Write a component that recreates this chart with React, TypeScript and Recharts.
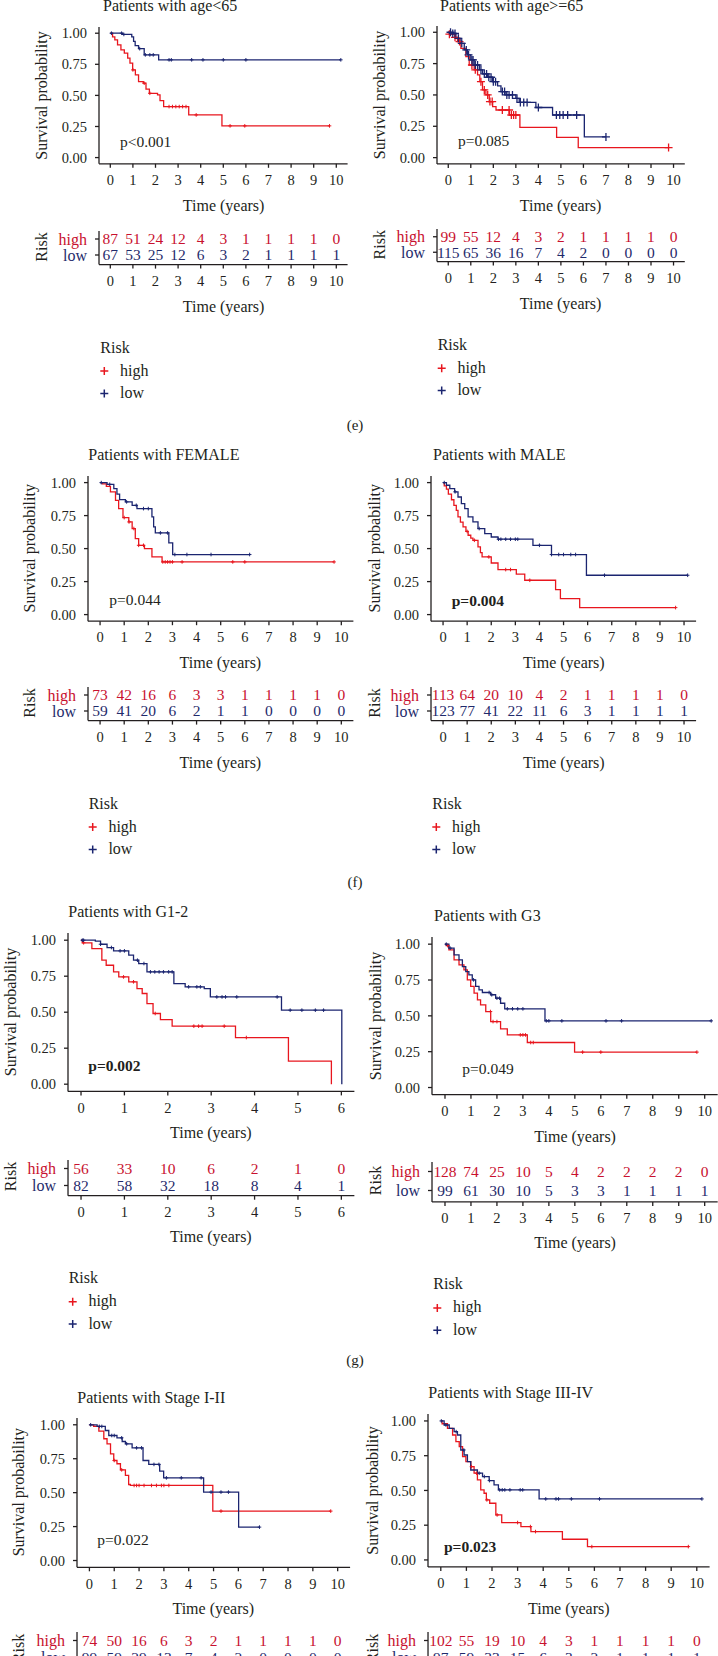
import React from "react";
import { ComposedChart, Line, Scatter, XAxis, YAxis } from "recharts";

const RED = "#e8161e";
const BLUE = "#1b2570";
const RED_TXT = "#c8102e";
const BLUE_TXT = "#1f2a6b";
const INK = "#231f20";
const FONT = "'Liberation Serif', 'DejaVu Serif', serif";

type Pt = [number, number];

const survTicks = [0, 0.25, 0.5, 0.75, 1];
const years10 = [0, 1, 2, 3, 4, 5, 6, 7, 8, 9, 10];
const years6 = [0, 1, 2, 3, 4, 5, 6];
const riskRows = ["low", "high"];
const legendItems = ["high", "low"];

// age < 65
const age1High: Pt[] = [[0, 1], [0.1, 0.97], [0.2, 0.946], [0.32, 0.906], [0.47, 0.866], [0.62, 0.84], [0.77, 0.8], [0.87, 0.76], [0.99, 0.705], [1.11, 0.665], [1.25, 0.61], [1.46, 0.598], [1.58, 0.55], [1.73, 0.517], [2.09, 0.504], [2.2, 0.458], [2.36, 0.41], [3.47, 0.343], [4.94, 0.255], [9.7, 0.255]];
const age1Low: Pt[] = [[0, 1], [0.55, 0.99], [0.95, 0.97], [1.03, 0.935], [1.1, 0.9], [1.25, 0.876], [1.5, 0.826], [2.14, 0.786], [10.2, 0.786]];
const age1HighCens = [1.0, 1.5, 1.75, 2.6, 2.75, 2.9, 3.05, 3.2, 3.35, 3.8, 5.3, 5.95, 9.7];
const age1LowCens = [0.05, 0.5, 0.6, 1.3, 1.55, 1.75, 1.9, 2.6, 2.7, 3.6, 4.1, 5.0, 6.0, 10.2];
const age1NHigh = [87, 51, 24, 12, 4, 3, 1, 1, 1, 1, 0];
const age1NLow = [67, 53, 25, 12, 6, 3, 2, 1, 1, 1, 1];

// age >= 65
const age2High: Pt[] = [[0, 1], [0.05, 0.985], [0.3, 0.96], [0.41, 0.926], [0.56, 0.872], [0.78, 0.806], [0.93, 0.739], [1.15, 0.7], [1.3, 0.66], [1.4, 0.606], [1.52, 0.54], [1.67, 0.5], [1.82, 0.447], [1.97, 0.407], [2.12, 0.38], [2.71, 0.34], [3.18, 0.242], [4.81, 0.162], [5.77, 0.08], [9.78, 0.08]];
const age2Low: Pt[] = [[0, 1], [0.12, 0.99], [0.34, 0.952], [0.56, 0.912], [0.71, 0.859], [0.86, 0.819], [1.0, 0.779], [1.15, 0.739], [1.38, 0.7], [1.52, 0.668], [1.75, 0.641], [1.97, 0.606], [2.19, 0.572], [2.34, 0.527], [2.56, 0.5], [3.0, 0.473], [3.15, 0.44], [3.89, 0.4], [4.63, 0.34], [6.04, 0.165], [7.0, 0.165]];
const age2HighCens = [0.05, 0.3, 0.5, 1.05, 1.2, 1.45, 1.6, 1.75, 1.85, 1.95, 2.4, 2.7, 2.8, 2.9, 3.0, 9.78];
const age2LowCens = [0.1, 0.2, 0.3, 0.45, 0.6, 0.8, 0.9, 1.05, 1.1, 1.2, 1.3, 1.45, 1.6, 1.7, 1.8, 1.9, 2.0, 2.1, 2.4, 2.5, 2.6, 2.7, 2.85, 3.05, 3.2, 3.35, 3.5, 4.0, 4.8, 4.95, 5.1, 5.3, 5.7, 7.0];
const age2NHigh = [99, 55, 12, 4, 3, 2, 1, 1, 1, 1, 0];
const age2NLow = [115, 65, 36, 16, 7, 4, 2, 0, 0, 0, 0];

// female
const femHigh: Pt[] = [[0, 1], [0.1, 0.99], [0.26, 0.972], [0.43, 0.929], [0.64, 0.866], [0.77, 0.803], [0.95, 0.735], [1.19, 0.702], [1.33, 0.652], [1.46, 0.576], [1.6, 0.525], [1.84, 0.5], [2.15, 0.437], [2.57, 0.399], [9.7, 0.399]];
const femLow: Pt[] = [[0, 1], [0.29, 0.987], [0.57, 0.955], [0.7, 0.912], [0.81, 0.871], [1.05, 0.854], [1.33, 0.828], [1.53, 0.803], [2.15, 0.74], [2.22, 0.664], [2.29, 0.619], [2.85, 0.543], [3.01, 0.455], [6.2, 0.455]];
const femHighCens = [1.0, 1.2, 1.4, 1.6, 1.8, 2.6, 2.7, 2.8, 2.9, 3.0, 3.4, 5.5, 6.0, 9.7];
const femLowCens = [0.05, 0.4, 1.1, 1.5, 1.8, 2.0, 2.5, 2.8, 3.1, 3.6, 4.6, 6.2];
const femNHigh = [73, 42, 16, 6, 3, 3, 1, 1, 1, 1, 0];
const femNLow = [59, 41, 20, 6, 2, 1, 1, 0, 0, 0, 0];

// male
const maleHigh: Pt[] = [[0, 1], [0.05, 0.975], [0.14, 0.95], [0.22, 0.912], [0.35, 0.87], [0.45, 0.828], [0.55, 0.79], [0.62, 0.74], [0.72, 0.7], [0.83, 0.664], [0.95, 0.63], [1.04, 0.601], [1.15, 0.58], [1.24, 0.563], [1.45, 0.513], [1.55, 0.47], [1.62, 0.437], [2.0, 0.391], [2.28, 0.341], [3.04, 0.306], [3.39, 0.26], [4.67, 0.189], [4.87, 0.121], [5.67, 0.053], [9.65, 0.053]];
const maleLow: Pt[] = [[0, 1], [0.14, 0.98], [0.28, 0.955], [0.48, 0.93], [0.62, 0.891], [0.76, 0.841], [0.9, 0.803], [1.04, 0.74], [1.24, 0.702], [1.45, 0.652], [1.73, 0.614], [2.0, 0.588], [2.28, 0.571], [3.73, 0.525], [4.5, 0.455], [5.95, 0.298], [10.15, 0.298]];
const maleHighCens = [1.0, 1.3, 1.9, 2.6, 2.8, 3.6, 9.65];
const maleLowCens = [0.05, 0.5, 1.5, 2.3, 2.4, 2.6, 2.8, 3.0, 3.1, 4.0, 4.5, 4.8, 5.0, 5.3, 5.5, 6.7, 10.15];
const maleNHigh = [113, 64, 20, 10, 4, 2, 1, 1, 1, 1, 0];
const maleNLow = [123, 77, 41, 22, 11, 6, 3, 1, 1, 1, 1];

// G1-2
const g12High: Pt[] = [[0, 1], [0.03, 0.982], [0.25, 0.942], [0.48, 0.861], [0.58, 0.826], [0.75, 0.78], [0.87, 0.745], [1.1, 0.711], [1.29, 0.664], [1.41, 0.63], [1.52, 0.56], [1.66, 0.491], [1.83, 0.449], [2.1, 0.403], [3.56, 0.324], [4.78, 0.16], [5.77, 0]];
const g12Low: Pt[] = [[0, 1], [0.33, 0.993], [0.45, 0.972], [0.6, 0.949], [0.75, 0.926], [1.1, 0.896], [1.21, 0.861], [1.33, 0.838], [1.52, 0.78], [2.14, 0.699], [2.4, 0.676], [2.84, 0.664], [2.98, 0.606], [4.62, 0.514], [6.01, 0]];
const g12HighCens = [0.06, 0.98, 1.21, 1.71, 2.6, 2.71, 2.79, 3.3, 3.81];
const g12LowCens = [0.03, 0.06, 0.45, 0.7, 0.9, 1.0, 1.3, 1.45, 1.6, 1.7, 1.8, 1.9, 2.02, 2.1, 2.48, 2.67, 2.75, 3.13, 3.25, 3.33, 3.59, 4.52, 4.82, 5.09, 5.4, 5.59];
const g12NHigh = [56, 33, 10, 6, 2, 1, 0];
const g12NLow = [82, 58, 32, 18, 8, 4, 1];

// G3
const g3High: Pt[] = [[0, 1], [0.05, 0.99], [0.15, 0.96], [0.35, 0.891], [0.54, 0.856], [0.73, 0.821], [0.86, 0.751], [0.99, 0.705], [1.12, 0.658], [1.25, 0.612], [1.37, 0.577], [1.57, 0.53], [1.76, 0.46], [2.14, 0.409], [2.4, 0.367], [3.17, 0.314], [4.99, 0.247], [9.7, 0.247]];
const g3Low: Pt[] = [[0, 1], [0.15, 0.972], [0.35, 0.926], [0.54, 0.891], [0.67, 0.844], [0.8, 0.809], [0.92, 0.786], [1.05, 0.751], [1.18, 0.705], [1.31, 0.681], [1.44, 0.663], [1.76, 0.647], [1.95, 0.623], [2.14, 0.588], [2.3, 0.549], [3.85, 0.465], [10.25, 0.465]];
const g3HighCens = [0.1, 1.75, 1.85, 2.0, 2.9, 3.0, 3.1, 3.3, 3.4, 5.3, 6.0, 9.7];
const g3LowCens = [0.05, 0.2, 1.1, 1.7, 1.8, 2.0, 2.1, 2.4, 2.6, 2.8, 3.0, 3.9, 4.0, 4.5, 6.2, 6.8, 10.25];
const g3NHigh = [128, 74, 25, 10, 5, 4, 2, 2, 2, 2, 0];
const g3NLow = [99, 61, 30, 10, 5, 3, 3, 1, 1, 1, 1];

// Stage I-II
const st12High: Pt[] = [[0, 1], [0.17, 0.988], [0.38, 0.953], [0.58, 0.897], [0.71, 0.86], [0.85, 0.786], [0.98, 0.737], [1.11, 0.713], [1.25, 0.668], [1.45, 0.627], [1.58, 0.56], [1.65, 0.553], [4.97, 0.364], [9.72, 0.364]];
const st12Low: Pt[] = [[0, 1], [0.31, 0.988], [0.64, 0.958], [0.78, 0.921], [1.11, 0.904], [1.32, 0.877], [1.45, 0.86], [1.72, 0.83], [2.16, 0.737], [2.39, 0.708], [2.83, 0.658], [2.99, 0.609], [4.6, 0.504], [6.01, 0.246], [6.85, 0.246]];
const st12HighCens = [1.0, 1.3, 1.8, 1.9, 2.0, 2.2, 2.5, 2.7, 2.9, 3.0, 3.2, 5.3, 9.72];
const st12LowCens = [0.05, 0.4, 0.5, 0.9, 1.0, 1.3, 1.5, 1.9, 2.1, 2.6, 2.8, 3.1, 3.7, 4.5, 4.9, 5.3, 5.6, 6.85];
const st12NHigh = [74, 50, 16, 6, 3, 2, 1, 1, 1, 1, 0];
const st12NLow = [99, 59, 29, 13, 7, 4, 2, 0, 0, 0, 0];

// Stage III-IV
const st34High: Pt[] = [[0, 1], [0.05, 0.98], [0.26, 0.947], [0.46, 0.899], [0.59, 0.851], [0.72, 0.815], [0.85, 0.743], [0.98, 0.707], [1.17, 0.671], [1.3, 0.624], [1.43, 0.576], [1.56, 0.504], [1.69, 0.48], [1.78, 0.432], [1.91, 0.408], [2.15, 0.324], [2.38, 0.269], [3.13, 0.24], [3.52, 0.204], [4.75, 0.149], [5.73, 0.096], [9.67, 0.096]];
const st34Low: Pt[] = [[0, 1], [0.13, 0.971], [0.33, 0.947], [0.52, 0.923], [0.65, 0.899], [0.78, 0.791], [0.91, 0.755], [1.04, 0.707], [1.17, 0.647], [1.43, 0.624], [1.63, 0.6], [1.89, 0.571], [2.08, 0.54], [2.25, 0.504], [3.84, 0.439], [10.2, 0.439]];
const st34HighCens = [1.2, 1.4, 1.8, 2.2, 3.0, 3.5, 3.7, 5.9, 9.67];
const st34LowCens = [0.02, 0.2, 0.6, 0.9, 1.5, 1.7, 1.9, 2.3, 2.4, 2.5, 2.7, 3.1, 3.2, 4.1, 4.5, 4.6, 5.1, 6.2, 10.2];
const st34NHigh = [102, 55, 19, 10, 4, 3, 1, 1, 1, 1, 0];
const st34NLow = [97, 59, 33, 15, 6, 3, 2, 1, 1, 1, 1];

interface Panel {
  title: string;
  p: string;
  bold?: boolean;
  big?: boolean;
  xticks: number[];
  high: Pt[];
  low: Pt[];
  highCens: number[];
  lowCens: number[];
  nHigh: number[];
  nLow: number[];
  // layout
  left: number;
  top: number;
  w: number;
  h: number;
  tblHigh: number;
  sp: number;
  ylab: number;
  tx: number;
  ty: number;
  px: number;
  py: number;
}

const panels: Panel[] = [
  { title: "Patients with age<65", p: "p<0.001", xticks: years10, high: age1High, low: age1Low, highCens: age1HighCens, lowCens: age1LowCens, nHigh: age1NHigh, nLow: age1NLow,
    left: 99.3, top: 27.1, w: 248.6, h: 136.8, tblHigh: 239, sp: 16, ylab: 47, tx: 103, ty: 11, px: 120, py: 146.7 },
  { title: "Patients with age>=65", p: "p=0.085", big: true, xticks: years10, high: age2High, low: age2Low, highCens: age2HighCens, lowCens: age2LowCens, nHigh: age2NHigh, nLow: age2NLow,
    left: 436.7, top: 26.1, w: 247.8, h: 137.9, tblHigh: 237, sp: 15.5, ylab: 384.5, tx: 440, ty: 11, px: 458, py: 145.7 },
  { title: "Patients with FEMALE", p: "p=0.044", xticks: years10, high: femHigh, low: femLow, highCens: femHighCens, lowCens: femLowCens, nHigh: femNHigh, nLow: femNLow,
    left: 87.7, top: 475.7, w: 265.4, h: 145.2, tblHigh: 695, sp: 16, ylab: 35, tx: 88.3, ty: 460, px: 109.3, py: 605 },
  { title: "Patients with MALE", p: "p=0.004", bold: true, xticks: years10, high: maleHigh, low: maleLow, highCens: maleHighCens, lowCens: maleLowCens, nHigh: maleNHigh, nLow: maleNLow,
    left: 431.3, top: 475.7, w: 265.1, h: 145.2, tblHigh: 695, sp: 16, ylab: 380, tx: 433, ty: 460, px: 451.7, py: 605.7 },
  { title: "Patients with G1-2", p: "p=0.002", bold: true, xticks: years6, high: g12High, low: g12Low, highCens: g12HighCens, lowCens: g12LowCens, nHigh: g12NHigh, nLow: g12NLow,
    left: 67.7, top: 932.8, w: 286.4, h: 158.4, tblHigh: 1168, sp: 17, ylab: 15.5, tx: 68.3, ty: 917.3, px: 88.3, py: 1070.7 },
  { title: "Patients with G3", p: "p=0.049", xticks: years10, high: g3High, low: g3Low, highCens: g3HighCens, lowCens: g3LowCens, nHigh: g3NHigh, nLow: g3NLow,
    left: 432.3, top: 937.1, w: 285.7, h: 157.7, tblHigh: 1171, sp: 19, ylab: 381, tx: 434, ty: 920.7, px: 462.3, py: 1074.3 },
  { title: "Patients with Stage I-II", p: "p=0.022", xticks: years10, high: st12High, low: st12Low, highCens: st12HighCens, lowCens: st12LowCens, nHigh: st12NHigh, nLow: st12NLow,
    left: 76.7, top: 1417.5, w: 273.1, h: 149.3, tblHigh: 1640, sp: 17, ylab: 24, tx: 77.3, ty: 1402.7, px: 97.3, py: 1545 },
  { title: "Patients with Stage III-IV", p: "p=0.023", bold: true, xticks: years10, high: st34High, low: st34Low, highCens: st34HighCens, lowCens: st34LowCens, nHigh: st34NHigh, nLow: st34NLow,
    left: 428, top: 1414, w: 281.6, h: 152.9, tblHigh: 1640, sp: 17, ylab: 378, tx: 428.3, ty: 1398.3, px: 444, py: 1551.7 },
];

const panelLetters = [
  { label: "(e)", y: 430 },
  { label: "(f)", y: 887 },
  { label: "(g)", y: 1365 },
];

const PAD = 60;

// survival value of a step curve at time t
const survAt = (steps: Pt[], t: number) => {
  let s = steps[0][1];
  for (const [ti, si] of steps) if (ti <= t) s = si;
  return s;
};

const plus = (color: string, a: number) => (props: any) => {
  const { cx, cy } = props;
  if (cx == null || cy == null) return <g />;
  return (
    <path
      d={`M${cx - a},${cy}H${cx + a}M${cx},${cy - a}V${cy + a}`}
      stroke={color}
      strokeWidth={a > 3 ? 1.3 : 1}
      fill="none"
    />
  );
};

const numText = (color: string) => (props: any) => {
  const { cx, cy, payload } = props;
  if (cx == null || cy == null) return <g />;
  return (
    <text x={cx} y={cy} dy="0.35em" textAnchor="middle" fill={color} fontSize={15.5}>
      {payload.n}
    </text>
  );
};

const RiskTick = (props: any) => {
  const { x, y, payload } = props;
  const name = riskRows[payload.value];
  return (
    <text x={x} y={y} dy="0.35em" textAnchor="end" fontSize={16} fill={name === "high" ? RED_TXT : BLUE_TXT}>
      {name}
    </text>
  );
};

function xAxisFor(cfg: Panel) {
  const tmax = cfg.xticks[cfg.xticks.length - 1];
  return (
    <XAxis
      type="number"
      dataKey="t"
      domain={[-0.05 * tmax, 1.05 * tmax]}
      ticks={cfg.xticks}
      interval={0}
      allowDataOverflow
      height={30}
      tickSize={4}
      tickMargin={7}
      stroke={INK}
      strokeWidth={1.3}
      tick={{ fill: INK, fontSize: 14.5 }}
    />
  );
}

function KMChart({ cfg }: { cfg: Panel }) {
  const hi = cfg.high.map(([t, s]) => ({ t, s }));
  const lo = cfg.low.map(([t, s]) => ({ t, s }));
  const hiC = cfg.highCens.map(t => ({ t, s: survAt(cfg.high, t) }));
  const loC = cfg.lowCens.map(t => ({ t, s: survAt(cfg.low, t) }));
  const a = cfg.big ? 4 : 1.8;
  return (
    <div style={{ position: "absolute", left: cfg.left - PAD, top: cfg.top - 4 }}>
      <ComposedChart width={PAD + cfg.w + 4} height={cfg.h + 34} margin={{ top: 4, right: 4, bottom: 0, left: 0 }}>
        {xAxisFor(cfg)}
        <YAxis
          type="number"
          dataKey="s"
          domain={[-0.05, 1.05]}
          ticks={survTicks}
          interval={0}
          allowDataOverflow
          width={PAD}
          tickSize={4}
          tickMargin={8}
          stroke={INK}
          strokeWidth={1.3}
          tick={{ fill: INK, fontSize: 14.5 }}
          tickFormatter={(v: number) => v.toFixed(2)}
        />
        <Line data={hi} dataKey="s" type="stepAfter" stroke={RED} strokeWidth={1.3} dot={false} isAnimationActive={false} />
        <Line data={lo} dataKey="s" type="stepAfter" stroke={BLUE} strokeWidth={1.3} dot={false} isAnimationActive={false} />
        <Scatter data={hiC} dataKey="s" shape={plus(RED, a)} isAnimationActive={false} />
        <Scatter data={loC} dataKey="s" shape={plus(BLUE, a)} isAnimationActive={false} />
      </ComposedChart>
    </div>
  );
}

function RiskTable({ cfg }: { cfg: Panel }) {
  const top = cfg.tblHigh - 0.5 * cfg.sp;
  const h = 2.1 * cfg.sp;
  const hiRow = cfg.nHigh.map((n, i) => ({ t: cfg.xticks[i], row: riskRows.indexOf("high"), n }));
  const loRow = cfg.nLow.map((n, i) => ({ t: cfg.xticks[i], row: riskRows.indexOf("low"), n }));
  return (
    <div style={{ position: "absolute", left: cfg.left - PAD, top: top - 4 }}>
      <ComposedChart width={PAD + cfg.w + 4} height={h + 34} margin={{ top: 4, right: 4, bottom: 0, left: 0 }}>
        {xAxisFor(cfg)}
        <YAxis
          type="number"
          dataKey="row"
          domain={[-0.6, 1.5]}
          ticks={[0, 1]}
          interval={0}
          allowDataOverflow
          width={PAD}
          tickSize={4}
          tickMargin={8}
          stroke={INK}
          strokeWidth={1.3}
          tick={RiskTick}
        />
        <Scatter data={hiRow} dataKey="row" shape={numText(RED_TXT)} isAnimationActive={false} />
        <Scatter data={loRow} dataKey="row" shape={numText(BLUE_TXT)} isAnimationActive={false} />
      </ComposedChart>
    </div>
  );
}

function Labels({ cfg }: { cfg: Panel }) {
  const cx = cfg.left + cfg.w / 2;
  const kmBottom = cfg.top + cfg.h;
  const tblBottom = cfg.tblHigh + 1.6 * cfg.sp;
  return (
    <g>
      <text x={cfg.tx} y={cfg.ty} fontSize={16}>{cfg.title}</text>
      <text x={cfg.px} y={cfg.py} fontSize={15.5} fontWeight={cfg.bold ? 700 : 400}>{cfg.p}</text>
      <text transform={`translate(${cfg.ylab},${cfg.top + cfg.h / 2}) rotate(-90)`} textAnchor="middle" fontSize={16}>
        Survival probability
      </text>
      <text x={cx} y={kmBottom + 47} textAnchor="middle" fontSize={16}>Time (years)</text>
      <text transform={`translate(${cfg.ylab},${cfg.tblHigh + cfg.sp / 2}) rotate(-90)`} textAnchor="middle" fontSize={16}>
        Risk
      </text>
      <text x={cx} y={tblBottom + 47} textAnchor="middle" fontSize={16}>Time (years)</text>
      <text x={cfg.left + 1} y={tblBottom + 88} fontSize={16}>Risk</text>
      {legendItems.map((name, i) => {
        const by = tblBottom + 111 + i * 22.3;
        const color = name === "high" ? RED : BLUE;
        const x0 = cfg.left + 5;
        const y0 = by - 4.5;
        return (
          <g key={name}>
            <path d={`M${x0 - 4},${y0}H${x0 + 4}M${x0},${y0 - 4}V${y0 + 4}`} stroke={color} strokeWidth={1.5} />
            <text x={cfg.left + 20.7} y={by} fontSize={16}>{name}</text>
          </g>
        );
      })}
    </g>
  );
}

export default function App() {
  return (
    <div
      style={{
        position: "absolute",
        left: 0,
        top: 0,
        width: 718,
        height: 1656,
        overflow: "hidden",
        background: "#fff",
        fontFamily: FONT,
        color: INK,
      }}
    >
      {panels.map((cfg, i) => (
        <React.Fragment key={i}>
          <KMChart cfg={cfg} />
          <RiskTable cfg={cfg} />
        </React.Fragment>
      ))}
      <svg
        width={718}
        height={1656}
        style={{ position: "absolute", left: 0, top: 0, pointerEvents: "none", fontFamily: FONT }}
        fill={INK}
      >
        {panels.map((cfg, i) => (
          <Labels key={i} cfg={cfg} />
        ))}
        {panelLetters.map(l => (
          <text key={l.label} x={355} y={l.y} textAnchor="middle" fontSize={15}>{l.label}</text>
        ))}
      </svg>
    </div>
  );
}
